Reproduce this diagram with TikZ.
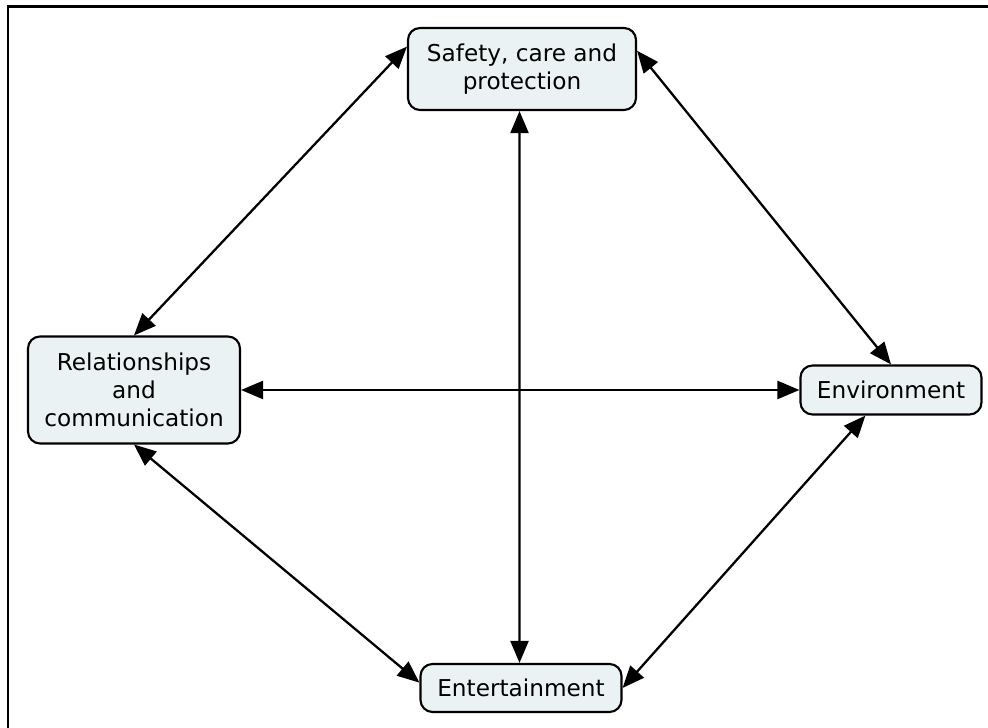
\documentclass[tikz,border=0pt]{standalone}
\usepackage{fontspec}
\setmainfont{DejaVu Sans}
\usetikzlibrary{arrows.meta}
\definecolor{boxfill}{HTML}{EBF2F4}

\begin{document}
\begin{tikzpicture}[
  box/.style={draw,line width=1.2pt,fill=boxfill,rounded corners=0.24cm,align=center,
    font=\fontsize{13.2pt}{16pt}\selectfont,inner sep=0pt},
  link/.style={line width=1.3pt,{Triangle[length=0.44cm,width=0.36cm]}-{Triangle[length=0.44cm,width=0.36cm]}}]
  \useasboundingbox (0,0) rectangle (19.76,14.56);
  % frame (top and left edges only)
  \draw[line width=1.7pt] (0.16,0) -- (0.16,14.42) -- (19.76,14.42);

  % the four topics
  \node[box,minimum width=4.56cm,minimum height=1.64cm] (saf) at (10.44,13.18) {Safety, care and\\protection};
  \node[box,minimum width=4.24cm,minimum height=2.14cm] (rel) at (2.68,6.76) {Relationships\\and\\communication};
  \node[box,minimum width=3.62cm,minimum height=0.98cm] (env) at (17.82,6.76) {Environment};
  \node[box,minimum width=4.02cm,minimum height=0.96cm] (ent) at (10.42,0.80) {Entertainment};

  % links between them
  \draw[link] (saf.169) -- (rel.north);
  \draw[link] (saf.9) -- (env.north);
  \draw[link] ([xshift=-0.05cm]saf.south) -- ([xshift=-0.03cm]ent.north);
  \draw[link] (rel.east) -- (env.west);
  \draw[link] (rel.south) -- (ent.177);
  \draw[link] (env.225) -- (ent.east);
\end{tikzpicture}
\end{document}
